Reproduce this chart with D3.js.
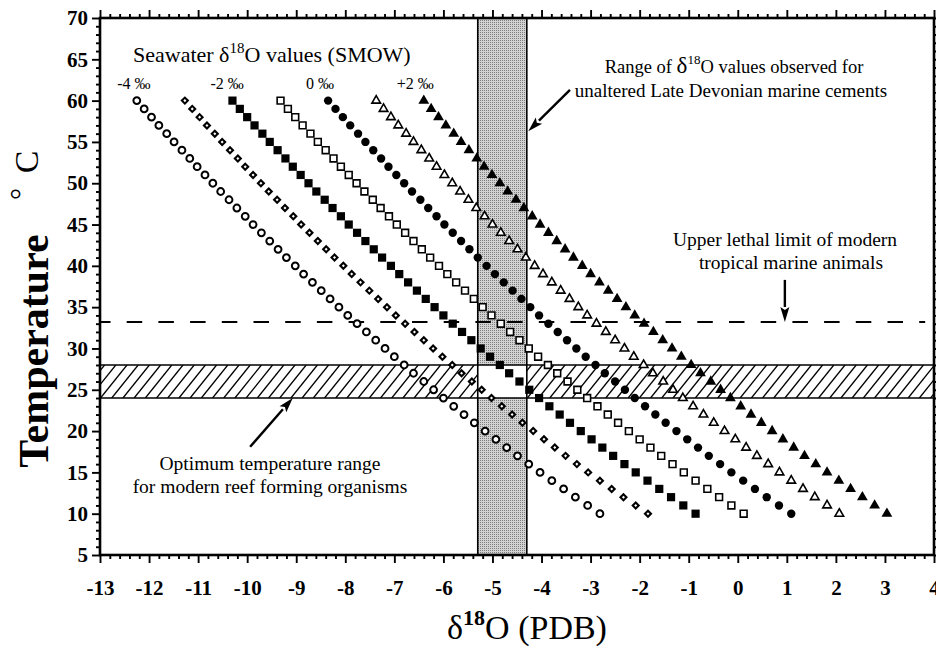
<!DOCTYPE html>
<html>
<head>
<meta charset="utf-8">
<script src="https://cdn.jsdelivr.net/npm/d3@7"></script>
<style>
  html, body { margin: 0; padding: 0; background: #fff; }
  svg { display: block; }
  text { font-family: "Liberation Serif", "Times New Roman", serif; fill: #000; }
</style>
</head>
<body>
<svg id="chart" width="936" height="647"></svg>
<script>
// Temperatures (°C) at which each calcite δ18O (PDB) value is plotted
const temperatures = [60,59,58,57,56,55,54,53,52,51,50,49,48,47,46,45,44,43,42,41,40,
  39,38,37,36,35,34,33,32,31,30,29,28,27,26,25,24,23,22,21,20,19,18,17,16,15,14,13,12,11,10];

// Calcite δ18O (PDB) for seawater δ18O (SMOW) of -4 ... +2 ‰
const seawaterM4 = [-12.25,-12.10,-11.95,-11.80,-11.64,-11.49,-11.33,-11.17,-11.02,-10.86,-10.70,
  -10.54,-10.37,-10.21,-10.04,-9.88,-9.71,-9.54,-9.37,-9.20,-9.02,-8.85,-8.67,-8.49,-8.31,-8.13,
  -7.95,-7.76,-7.57,-7.38,-7.19,-7.00,-6.80,-6.61,-6.40,-6.20,-6.00,-5.79,-5.58,-5.37,-5.15,
  -4.93,-4.71,-4.49,-4.26,-4.03,-3.79,-3.55,-3.31,-3.06,-2.81];
const seawaterM3 = [-11.27,-11.12,-10.97,-10.82,-10.66,-10.51,-10.35,-10.19,-10.04,-9.88,-9.72,
  -9.56,-9.39,-9.23,-9.06,-8.90,-8.73,-8.56,-8.39,-8.22,-8.04,-7.87,-7.69,-7.51,-7.33,-7.15,
  -6.97,-6.78,-6.59,-6.40,-6.21,-6.02,-5.82,-5.63,-5.42,-5.22,-5.02,-4.81,-4.60,-4.39,-4.17,
  -3.95,-3.73,-3.51,-3.28,-3.05,-2.81,-2.57,-2.33,-2.08,-1.83];
const seawaterM2 = [-10.30,-10.15,-10.00,-9.85,-9.69,-9.54,-9.38,-9.22,-9.07,-8.91,-8.75,
  -8.59,-8.42,-8.26,-8.09,-7.93,-7.76,-7.59,-7.42,-7.25,-7.07,-6.90,-6.72,-6.54,-6.36,-6.18,
  -6.00,-5.81,-5.62,-5.43,-5.24,-5.05,-4.85,-4.66,-4.45,-4.25,-4.05,-3.84,-3.63,-3.42,-3.20,
  -2.98,-2.76,-2.54,-2.31,-2.08,-1.84,-1.60,-1.36,-1.11,-0.86];
const seawaterM1 = [-9.32,-9.17,-9.02,-8.87,-8.71,-8.56,-8.40,-8.24,-8.09,-7.93,-7.77,
  -7.61,-7.44,-7.28,-7.11,-6.95,-6.78,-6.61,-6.44,-6.27,-6.09,-5.92,-5.74,-5.56,-5.38,-5.20,
  -5.02,-4.83,-4.64,-4.45,-4.26,-4.07,-3.87,-3.68,-3.47,-3.27,-3.07,-2.86,-2.65,-2.44,-2.22,
  -2.00,-1.78,-1.56,-1.33,-1.10,-0.86,-0.62,-0.38,-0.13,0.12];
const seawater0 = [-8.35,-8.20,-8.05,-7.90,-7.74,-7.59,-7.43,-7.27,-7.12,-6.96,-6.80,
  -6.64,-6.47,-6.31,-6.14,-5.98,-5.81,-5.64,-5.47,-5.30,-5.12,-4.95,-4.77,-4.59,-4.41,-4.23,
  -4.05,-3.86,-3.67,-3.48,-3.29,-3.10,-2.90,-2.71,-2.50,-2.30,-2.10,-1.89,-1.68,-1.47,-1.25,
  -1.03,-0.81,-0.59,-0.36,-0.13,0.11,0.35,0.59,0.84,1.09];
const seawaterP1 = [-7.37,-7.22,-7.07,-6.92,-6.76,-6.61,-6.45,-6.29,-6.14,-5.98,-5.82,
  -5.66,-5.49,-5.33,-5.16,-5.00,-4.83,-4.66,-4.49,-4.32,-4.14,-3.97,-3.79,-3.61,-3.43,-3.25,
  -3.07,-2.88,-2.69,-2.50,-2.31,-2.12,-1.92,-1.73,-1.52,-1.32,-1.12,-0.91,-0.70,-0.49,-0.27,
  -0.05,0.17,0.39,0.62,0.85,1.09,1.33,1.57,1.82,2.07];
const seawaterP2 = [-6.40,-6.25,-6.10,-5.95,-5.79,-5.64,-5.48,-5.32,-5.17,-5.01,-4.85,
  -4.69,-4.52,-4.36,-4.19,-4.03,-3.86,-3.69,-3.52,-3.35,-3.17,-3.00,-2.82,-2.64,-2.46,-2.28,
  -2.10,-1.91,-1.72,-1.53,-1.34,-1.15,-0.95,-0.76,-0.55,-0.35,-0.15,0.06,0.27,0.48,0.70,
  0.92,1.14,1.36,1.59,1.82,2.06,2.30,2.54,2.79,3.04];

// Axis ticks and labels
const xTickValues = [-13,-12,-11,-10,-9,-8,-7,-6,-5,-4,-3,-2,-1,0,1,2,3,4];
const xTickLabels = ["-13","-12","-11","-10","-9","-8","-7","-6","-5","-4","-3","-2","-1","0","1","2","3","4"];
const yTickValues = [5,10,15,20,25,30,35,40,45,50,55,60,65,70];

// Reference ranges
const cementRange = [-5.3, -4.3];   // δ18O of Late Devonian marine cements
const reefRange = [24, 28];         // optimum reef temperature, °C
const lethalLimit = 33.2;           // upper lethal limit, °C

// Seawater labels above the curves
const seawaterLabels = [
  { text: "-4 ‰", x: -12.65 },
  { text: "-2 ‰", x: -10.75 },
  { text: "0 ‰",  x: -8.8 },
  { text: "+2 ‰", x: -6.95 }
];

const svg = d3.select("#chart");
const x = d3.scaleLinear().domain([-13, 4]).range([100, 934]);
const y = d3.scaleLinear().domain([5, 70]).range([555, 18]);

const defs = svg.append("defs");
const stip = defs.append("pattern").attr("id", "stipple")
  .attr("patternUnits", "userSpaceOnUse").attr("width", 2).attr("height", 2);
stip.append("rect").attr("width", 2).attr("height", 2).attr("fill", "#d2d2d2");
stip.append("rect").attr("width", 1).attr("height", 1).attr("fill", "#7e7e7e");

defs.append("clipPath").attr("id", "plotClip").append("rect")
  .attr("x", x(-13)).attr("y", y(70)).attr("width", x(4) - x(-13)).attr("height", y(5) - y(70));

const plot = svg.append("g").attr("clip-path", "url(#plotClip)");

// Grey cement band, interrupted where it crosses the reef band
[[reefRange[1], 70], [5, reefRange[0]]].forEach(([t0, t1]) => {
  plot.append("rect")
    .attr("x", x(cementRange[0])).attr("width", x(cementRange[1]) - x(cementRange[0]))
    .attr("y", y(t1)).attr("height", y(t0) - y(t1))
    .attr("fill", "url(#stipple)");
});

// Hatched reef band, left and right of the cement band
const hatchTop = y(reefRange[1]), hatchBot = y(reefRange[0]);
const hatchH = hatchBot - hatchTop;
[[-13, cementRange[0]], [cementRange[1], 4]].forEach(([a, b], i) => {
  const id = "hatchClip" + i;
  defs.append("clipPath").attr("id", id).append("rect")
    .attr("x", x(a)).attr("y", hatchTop).attr("width", x(b) - x(a)).attr("height", hatchH);
  const g = plot.append("g").attr("clip-path", `url(#${id})`);
  const starts = d3.range(x(a) - hatchH, x(b) + 1, 11.2);
  g.selectAll("line").data(starts).join("line")
    .attr("x1", d => d).attr("y1", hatchBot)
    .attr("x2", d => d + hatchH * 0.8).attr("y2", hatchTop)
    .attr("stroke", "#000").attr("stroke-width", 1.3);
});

// Band outlines
cementRange.forEach(v => {
  plot.append("line").attr("x1", x(v)).attr("x2", x(v)).attr("y1", y(70)).attr("y2", y(5))
    .attr("stroke", "#000").attr("stroke-width", 1.6);
});
reefRange.forEach(v => {
  plot.append("line").attr("x1", x(-13)).attr("x2", x(4)).attr("y1", y(v)).attr("y2", y(v))
    .attr("stroke", "#000").attr("stroke-width", 1.6);
});

// Upper lethal limit
plot.append("line")
  .attr("x1", x(-13)).attr("x2", x(3.82)).attr("y1", y(lethalLimit)).attr("y2", y(lethalLimit))
  .attr("stroke", "#000").attr("stroke-width", 2)
  .attr("stroke-dasharray", "15.5,16.2").attr("stroke-dashoffset", 5);

// Curves of calcite δ18O vs temperature for each seawater composition
const series = [
  { values: seawaterM4, shape: "circle",   filled: false },
  { values: seawaterM3, shape: "diamond",  filled: false },
  { values: seawaterM2, shape: "square",   filled: true },
  { values: seawaterM1, shape: "square",   filled: false },
  { values: seawater0,  shape: "circle",   filled: true },
  { values: seawaterP1, shape: "triangle", filled: false },
  { values: seawaterP2, shape: "triangle", filled: true }
];

const marks = svg.append("g");
series.forEach(s => {
  const pts = s.values.map((v, i) => ({ dx: v, t: temperatures[i] }));
  const g = marks.append("g");
  const sel = g.selectAll("path").data(pts).join("path")
    .attr("transform", d => `translate(${x(d.dx)},${y(d.t)})`);
  if (s.shape === "circle") {
    const r = s.filled ? 4.2 : 3.4;
    sel.attr("d", d3.symbol(d3.symbolCircle, Math.PI * r * r)());
  } else if (s.shape === "square") {
    const a = s.filled ? 8.2 : 6.8;
    sel.attr("d", d3.symbol(d3.symbolSquare, a * a)());
  } else if (s.shape === "diamond") {
    sel.attr("d", d3.symbol(d3.symbolSquare, 18)())
      .attr("transform", d => `translate(${x(d.dx)},${y(d.t)}) rotate(45)`);
  } else {
    const side = s.filled ? 10.8 : 8.6;
    sel.attr("d", d3.symbol(d3.symbolTriangle, side * side * Math.sqrt(3) / 4)());
  }
  if (s.filled) {
    sel.attr("fill", "#000").attr("stroke", "none");
  } else {
    sel.attr("fill", "#fff").attr("stroke", "#000")
      .attr("stroke-width", s.shape === "diamond" ? 2.1 : (s.shape === "circle" ? 2 : 1.6));
  }
});

// Axes: major and minor ticks pointing outward on all four sides
const yMinor = d3.range(5, 70.01, 1).filter(v => v % 5 !== 0);
const xMinor = d3.range(-13, 4.001, 0.2).map(v => Math.round(v * 10) / 10)
  .filter(v => Math.abs(v - Math.round(v)) > 1e-6);

function styleAxis(g) {
  g.select(".domain").remove();
  g.selectAll(".tick line").attr("stroke", "#000").attr("stroke-width", 1.9);
  g.selectAll(".tick text").attr("font-family", "Liberation Serif, serif")
    .attr("font-weight", "bold").attr("font-size", 21).attr("fill", "#000");
}

const axes = svg.append("g");
axes.append("g").attr("transform", `translate(${x(-13)},0)`)
  .call(d3.axisLeft(y).tickValues(yTickValues).tickSize(8).tickPadding(4).tickFormat(d => String(d)))
  .call(styleAxis);
axes.append("g").attr("transform", `translate(${x(-13)},0)`)
  .call(d3.axisLeft(y).tickValues(yMinor).tickSize(4).tickFormat(""))
  .call(styleAxis);
axes.append("g").attr("transform", `translate(${x(4)},0)`)
  .call(d3.axisRight(y).tickValues(yTickValues).tickSize(8).tickFormat(""))
  .call(styleAxis);
axes.append("g").attr("transform", `translate(${x(4)},0)`)
  .call(d3.axisRight(y).tickValues(yMinor).tickSize(4).tickFormat(""))
  .call(styleAxis);

axes.append("g").attr("transform", `translate(0,${y(5)})`)
  .call(d3.axisBottom(x).tickValues(xTickValues).tickSize(8).tickPadding(17)
    .tickFormat((d, i) => xTickLabels[i]))
  .call(styleAxis);
axes.append("g").attr("transform", `translate(0,${y(5)})`)
  .call(d3.axisBottom(x).tickValues(xMinor).tickSize(4).tickFormat(""))
  .call(styleAxis);
axes.append("g").attr("transform", `translate(0,${y(70)})`)
  .call(d3.axisTop(x).tickValues(xTickValues).tickSize(8).tickFormat(""))
  .call(styleAxis);
axes.append("g").attr("transform", `translate(0,${y(70)})`)
  .call(d3.axisTop(x).tickValues(xMinor).tickSize(4).tickFormat(""))
  .call(styleAxis);

// Plot frame
axes.append("rect")
  .attr("x", x(-13)).attr("y", y(70)).attr("width", x(4) - x(-13)).attr("height", y(5) - y(70))
  .attr("fill", "none").attr("stroke", "#000").attr("stroke-width", 2.6);

// Axis titles
const xt = svg.append("text").attr("x", 527).attr("y", 639).attr("text-anchor", "middle")
  .attr("font-size", 34);
xt.append("tspan").text("δ");
xt.append("tspan").attr("dy", -14).attr("font-size", 22).attr("font-weight", "bold").text("18");
xt.append("tspan").attr("dy", 14).text("O (PDB)");

svg.append("text").attr("transform", "translate(48,351) rotate(-90)")
  .attr("text-anchor", "middle").attr("font-size", 42).attr("font-weight", "bold")
  .text("Temperature");
svg.append("text").attr("transform", "translate(31,194) rotate(-90)")
  .attr("text-anchor", "middle").attr("font-size", 30).text("°");
svg.append("text").attr("transform", "translate(38,162) rotate(-90)")
  .attr("text-anchor", "middle").attr("font-size", 34).text("C");

// Annotations
const note = svg.append("g");
const sw = note.append("text").attr("x", 133).attr("y", 62).attr("font-size", 22);
sw.append("tspan").text("Seawater δ");
sw.append("tspan").attr("dy", -9).attr("font-size", 15).text("18");
sw.append("tspan").attr("dy", 9).text("O values (SMOW)");

note.selectAll("text.swlab").data(seawaterLabels).join("text").attr("class", "swlab")
  .attr("x", d => x(d.x)).attr("y", 89).attr("font-size", 16).text(d => d.text);

const rg = note.append("text").attr("x", 734).attr("y", 73).attr("text-anchor", "middle")
  .attr("font-size", 18.5);
rg.append("tspan").text("Range of  ");
rg.append("tspan").attr("font-size", 23).text("δ");
rg.append("tspan").attr("dy", -9).attr("font-size", 13).text("18");
rg.append("tspan").attr("dy", 9).text("O values observed for");
note.append("text").attr("x", 731).attr("y", 97).attr("text-anchor", "middle")
  .attr("font-size", 19).text("unaltered Late Devonian marine cements");

note.append("text").attr("x", 785).attr("y", 246).attr("text-anchor", "middle")
  .attr("font-size", 19.5).text("Upper lethal limit of modern");
note.append("text").attr("x", 791).attr("y", 269).attr("text-anchor", "middle")
  .attr("font-size", 19.5).text("tropical marine animals");

note.append("text").attr("x", 270).attr("y", 470).attr("text-anchor", "middle")
  .attr("font-size", 19.5).text("Optimum temperature range");
note.append("text").attr("x", 270).attr("y", 493).attr("text-anchor", "middle")
  .attr("font-size", 19.5).text("for modern reef forming organisms");

function arrow(x1, y1, x2, y2) {
  const ang = Math.atan2(y2 - y1, x2 - x1);
  const len = 15, half = 4.5;
  const bx = x2 - len * Math.cos(ang), by = y2 - len * Math.sin(ang);
  note.append("line").attr("x1", x1).attr("y1", y1).attr("x2", bx).attr("y2", by)
    .attr("stroke", "#000").attr("stroke-width", 2.4);
  const p = [
    [x2, y2],
    [bx + half * Math.sin(ang), by - half * Math.cos(ang)],
    [bx + 0.2 * len * Math.cos(ang), by + 0.2 * len * Math.sin(ang)],
    [bx - half * Math.sin(ang), by + half * Math.cos(ang)]
  ];
  note.append("path").attr("d", "M" + p.map(q => q.join(",")).join("L") + "Z").attr("fill", "#000");
}
arrow(x(-3.42), y(61.3), x(-4.27), y(56.3));
arrow(x(0.96), y(38.3), x(0.96), y(lethalLimit));
arrow(x(-9.94), y(18.1), x(-9.07), y(reefRange[0]));
</script>
</body>
</html>
